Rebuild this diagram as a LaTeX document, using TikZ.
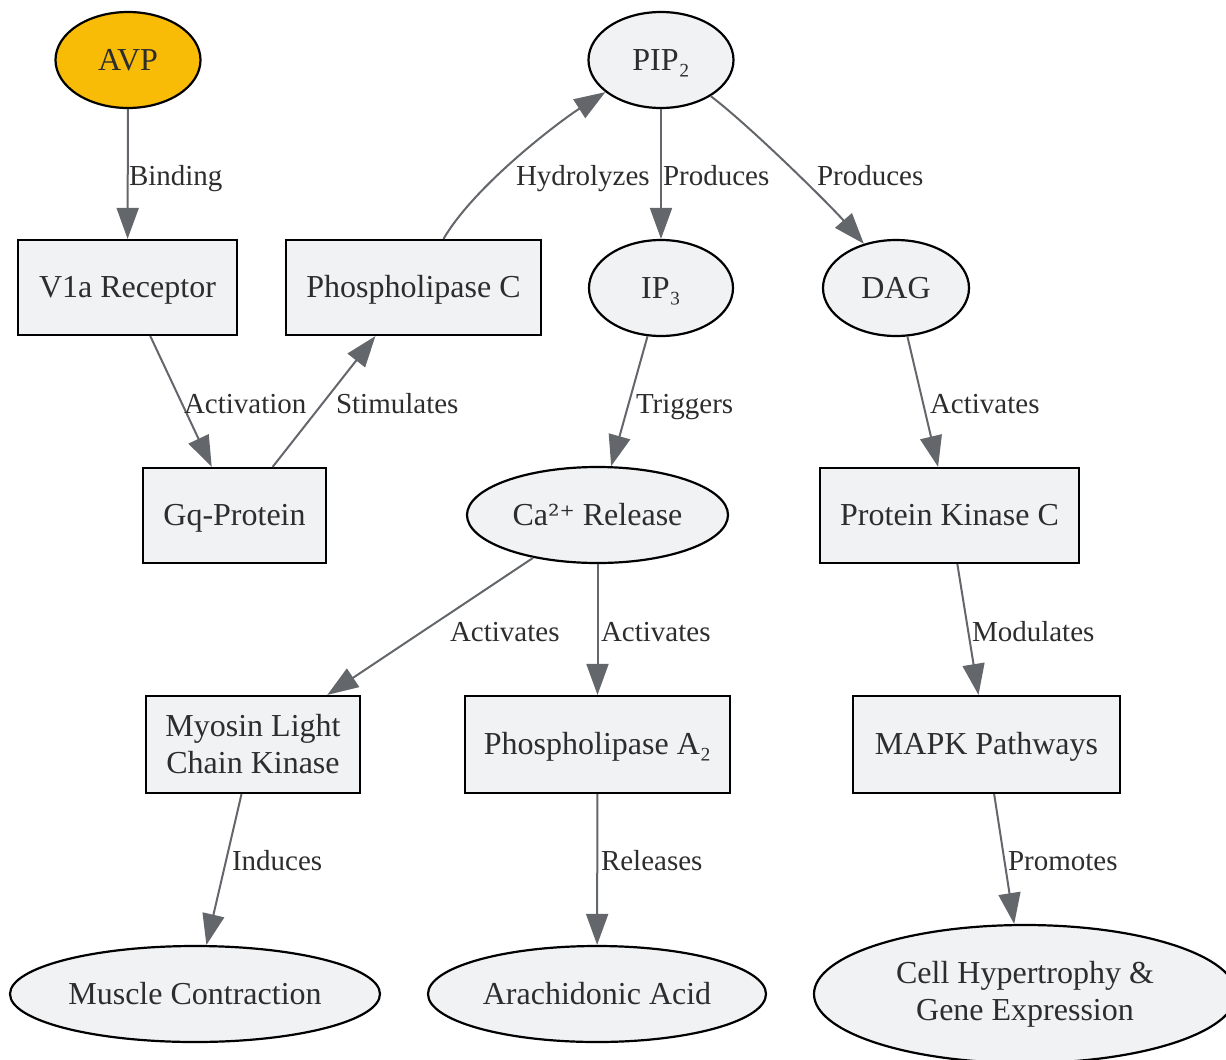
\documentclass[tikz,border=0pt]{standalone}
\usepackage{fontspec}
\setmainfont{Liberation Serif}
\newfontfamily\supfont[Scale=0.9]{DejaVu Serif}
\usetikzlibrary{shapes.geometric,arrows.meta}
\definecolor{nodefill}{RGB}{241,242,244}
\definecolor{avpfill}{RGB}{249,188,6}
\definecolor{linkgray}{RGB}{99,102,106}
\definecolor{txtgray}{RGB}{45,45,45}

\begin{document}
\begin{tikzpicture}[x=1pt,y=-1pt,
    box/.style={draw=black,line width=2.2pt,fill=nodefill,inner sep=0pt,text=txtgray,
      font=\fontsize{32}{37}\selectfont,align=center,text height=27.2pt,text depth=6.4pt},
    twoline/.style={text height={},text depth={}},
    oval/.style={box,ellipse},
    link/.style={draw=linkgray,line width=2pt,-{Triangle[length=31pt,width=22pt]}},
    lbl/.style={anchor=base west,yshift=-10pt,inner sep=0pt,text=txtgray,font=\fontsize{29}{34}\selectfont}]
          \useasboundingbox (0,0) rectangle (1226,1060);
          % nodes
          \node[oval,fill=avpfill,minimum width=145pt,minimum height=96pt] (avp) at (128,60) {AVP};
          \node[oval,minimum width=145pt,minimum height=96pt] (pip) at (661,60) {PIP₂};
          \node[box,minimum width=219pt,minimum height=95pt] (v1a) at (127.5,287.5) {V1a Receptor};
          \node[box,minimum width=255pt,minimum height=95pt] (plc) at (413.5,287.5) {Phospholipase C};
          \node[oval,minimum width=144pt,minimum height=96pt] (ip) at (661,288) {IP₃};
          \node[oval,minimum width=146pt,minimum height=96pt] (dag) at (896,288) {DAG};
          \node[box,minimum width=183pt,minimum height=95pt] (gq) at (234.5,515.5) {Gq-Protein};
          \node[oval,minimum width=261pt,minimum height=96pt] (ca) at (597.5,515) {Ca{\supfont ²⁺} Release};
          \node[box,minimum width=259pt,minimum height=95pt] (pkc) at (949.5,515.5) {Protein Kinase C};
          \node[box,twoline,minimum width=214pt,minimum height=97pt] (mlck) at (253,744.5) {Myosin Light\\Chain Kinase};
          \node[box,minimum width=265pt,minimum height=97pt] (pla) at (597.5,744.5) {Phospholipase A₂};
          \node[box,minimum width=267pt,minimum height=97pt] (mapk) at (986.5,744.5) {MAPK Pathways};
          \node[oval,minimum width=370pt,minimum height=96pt] (muscle) at (195,994) {Muscle Contraction};
          \node[oval,minimum width=338pt,minimum height=96pt] (arach) at (597,994) {Arachidonic Acid};
          \node[oval,twoline,minimum width=422pt,minimum height=138pt] (cell) at (1025,994) {Cell Hypertrophy \&\\Gene Expression};
          % connectors
          \draw[link] (avp) -- (v1a) node[lbl] at (128,175) {Binding};
          \draw[link] (v1a) -- (gq) node[lbl] at (183,403) {Activation};
          \draw[link] (gq) -- (plc) node[lbl] at (335,403) {Stimulates};
          \draw[link] ([xshift=30pt]plc.north) .. controls (475,185) and (560,121) .. (pip.210.5) node[lbl] at (515,175) {Hydrolyzes};
          \draw[link] (pip) -- (ip) node[lbl] at (662,175) {Produces};
          \draw[link] (pip.-36) .. controls (750,126) and (830,205) .. (dag.126.5) node[lbl] at (816,175) {Produces};
          \draw[link] (ip) -- (ca) node[lbl] at (635,403) {Triggers};
          \draw[link] (dag) -- (pkc) node[lbl] at (929,403) {Activates};
          \draw[link] (ca) -- (mlck) node[lbl] at (449,631) {Activates};
          \draw[link] (ca) -- (pla) node[lbl] at (600,631) {Activates};
          \draw[link] (pkc) -- (mapk) node[lbl] at (971,631) {Modulates};
          \draw[link] (mlck) -- (muscle) node[lbl] at (231,860) {Induces};
          \draw[link] (pla) -- (arach) node[lbl] at (600,860) {Releases};
          \draw[link] (mapk) -- (cell) node[lbl] at (1007,860) {Promotes};
        \end{tikzpicture}
\end{document}
